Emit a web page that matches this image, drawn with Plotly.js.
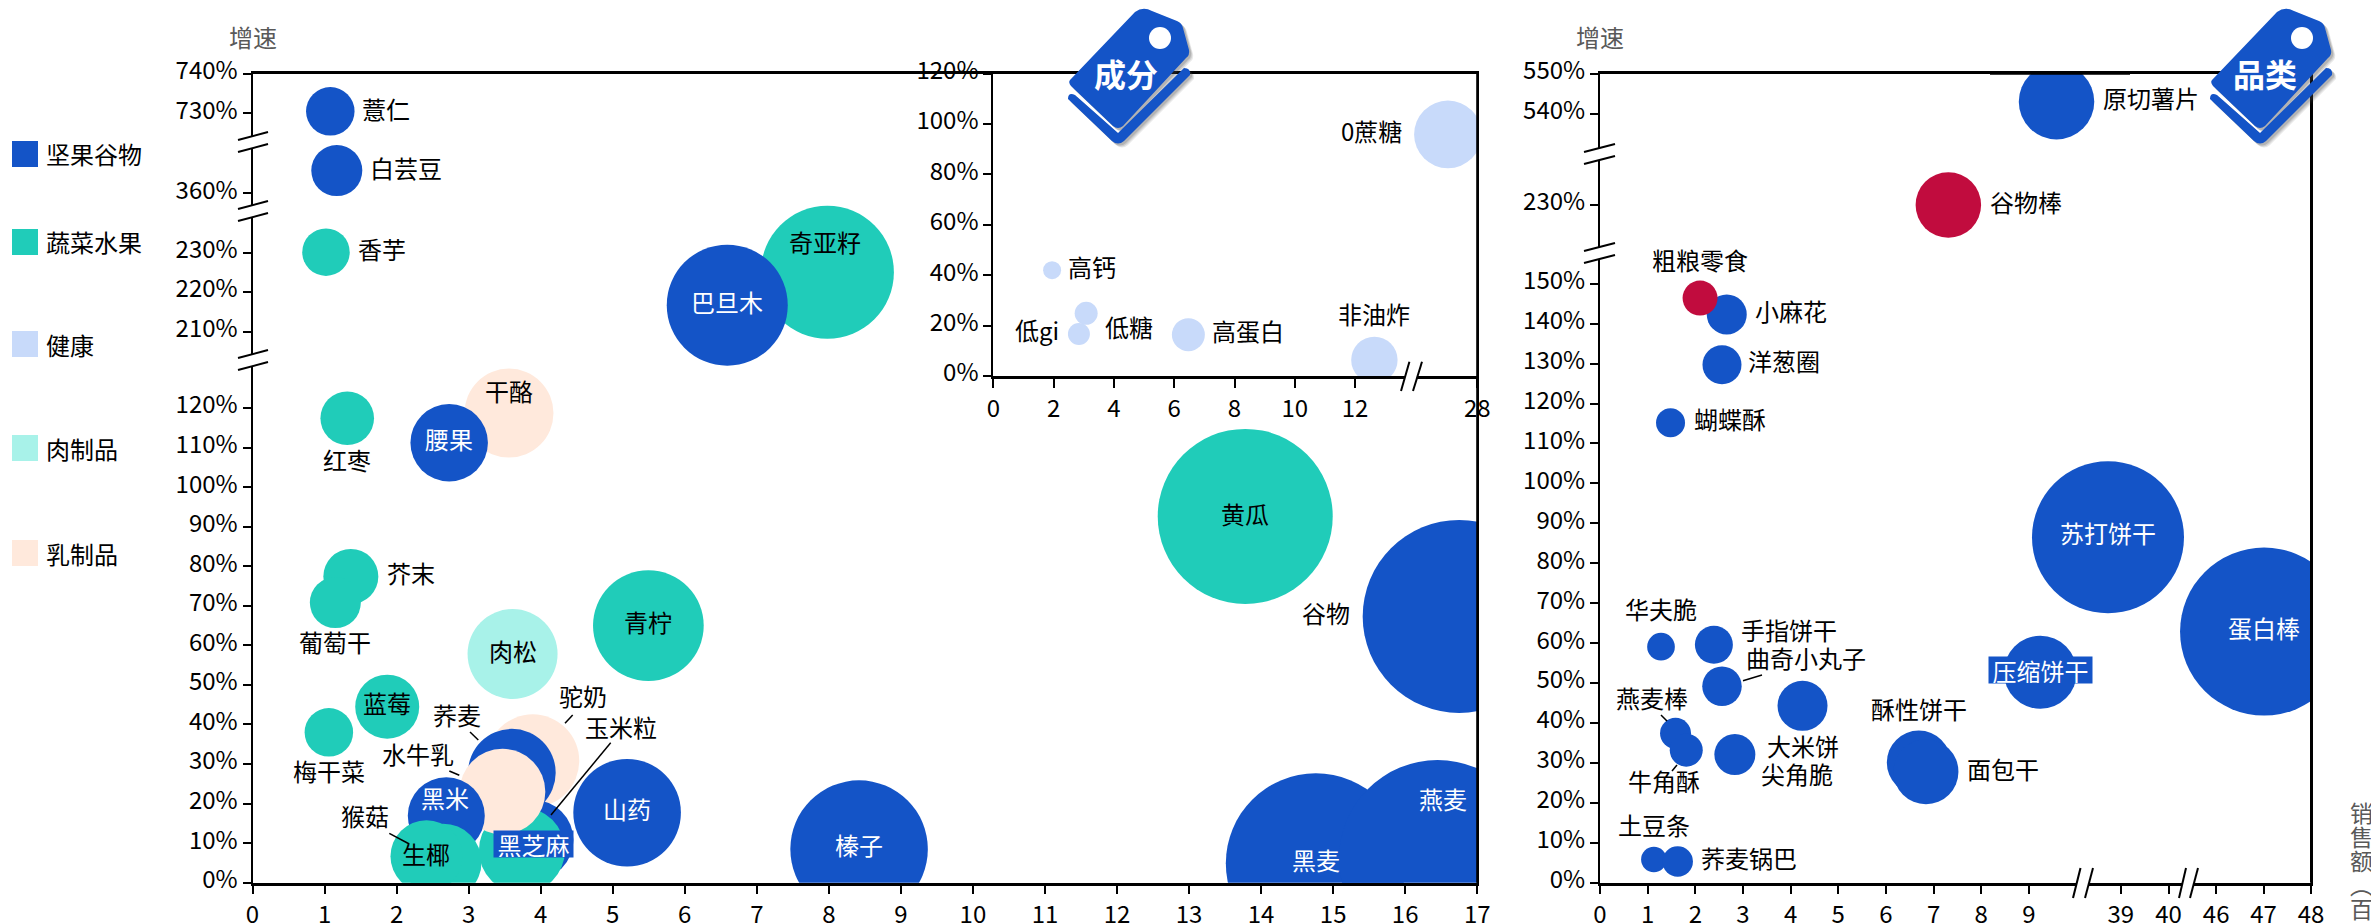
<!DOCTYPE html>
<html><head><meta charset="utf-8">
<script src="https://cdn.plot.ly/plotly-3.0.1.min.js"></script>
<style>html,body{margin:0;padding:0;background:#fff;overflow:hidden}</style>
</head><body><div id="chart" style="width:2371px;height:924px"></div>
<script>
// ---------- category names & colours ----------
const categoryNames = ['坚果谷物','蔬菜水果','健康','肉制品','乳制品'];
const categoryColors = ['#1454C7','#20CCB9','#C8DAFA','#A8F2E9','#FFE9DC','#C10C3E'];

// ---------- main panel (in drawing order) ----------
const mainNames = ['干酪','驼奶','奇亚籽','腰果','巴旦木','荞麦','黑芝麻','山药','榛子','黑麦','燕麦','谷物','薏仁','白芸豆','香芋','红枣','芥末','葡萄干','青柠','蓝莓','梅干菜','黄瓜','玉米粒','肉松','水牛乳','黑米','猴菇','生椰'];
const mainSales = [3.56,3.89,7.98,2.73,6.59,3.6,3.9,5.2,8.42,14.76,16.45,16.75,1.08,1.17,1.02,1.315,1.365,1.15,5.495,1.87,1.06,13.78,3.74,3.61,3.47,2.69,2.645,2.415];
const mainGrowth = [118.7,30.8,225,111.2,216.7,27.8,10.8,17.7,8.5,4.9,6.1,67.3,730.5,365.7,230.8,117.4,77.4,70.8,65,44.5,38,92.6,8.2,57.8,23,16.9,5.2,6.7];
const mainBubble = [89,93,133,77.5,121,87.7,80,107.6,137.5,180,197,193,48.5,51,47.5,53.6,55,51,110.7,64,48.5,175,86,90,85.7,77,77,72];
const mainCategory = [4,4,1,0,0,0,0,0,0,0,0,0,0,0,1,1,1,1,1,1,1,1,1,3,4,0,1,1];
const mainXTicks = [0,1,2,3,4,5,6,7,8,9,10,11,12,13,14,15,16,17];
const mainYTicks = [0,10,20,30,40,50,60,70,80,90,100,110,120,210,220,230,360,730,740];

// ---------- inset panel 成分 ----------
const insetNames = ['高钙','低糖','低gi','高蛋白','非油炸','0蔗糖'];
const insetSales = [1.95,3.08,2.84,6.47,12.64,27.03];
const insetGrowth = [42,24.9,16.7,16.4,6.4,95.9];
const insetBubble = [18,23,22,33,46.4,67.7];
const insetXTicks = [0,2,4,6,8,10,12,28];
const insetYTicks = [0,20,40,60,80,100,120];

// ---------- right panel 品类 ----------
const rightNames = ['原切薯片','苏打饼干','蛋白棒','压缩饼干','酥性饼干','面包干','大米饼','尖角脆','曲奇小丸子','手指饼干','华夫脆','燕麦棒','牛角酥','土豆条','荞麦锅巴','小麻花','洋葱圈','蝴蝶酥','谷物棒','粗粮零食'];
const rightSales = [9.58,38.73,47.01,9.24,6.69,6.84,4.25,2.83,2.56,2.39,1.28,1.585,1.81,1.13,1.63,2.66,2.56,1.48,7.31,2.1];
const rightGrowth = [543,86.5,62.9,52.7,30.1,27.8,44.3,32.1,49.2,59.6,59.1,37.4,33.2,5.8,5.3,142.3,129.7,115.2,229.7,146.4];
const rightBubble = [75.5,152,168,73,64,65,50,41,39.5,38,27.7,31,33,25.5,30.5,40,39,29,65.5,35];
const rightCategory = [0,0,0,0,0,0,0,0,0,0,0,0,0,0,0,0,0,0,5,5];
const rightXTicks = [0,1,2,3,4,5,6,7,8,9,39,40,46,47,48];
const rightYTicks = [0,10,20,30,40,50,60,70,80,90,100,110,120,130,140,150,230,540,550];

// ---------- label placement: name -> [dx, dy] in px from the bubble centre ----------
const labelOffsets = {
 '薏仁':[56,-1],'白芸豆':[69,-1],'香芋':[56,-2],'巴旦木':[0,-2],'奇亚籽':[-2,-29],'红枣':[0,43],'腰果':[0,-2],'干酪':[0,-21],
 '芥末':[60,-2],'葡萄干':[0,41],'肉松':[0,-2],'青柠':[0,-2],'蓝莓':[0,-2],'梅干菜':[0,40],'驼奶':[50,-63],'荞麦':[-55,-56],
 '水牛乳':[-84,-36],'黑米':[-1,-16],'猴菇':[-78.5,-44.7],'生椰':[0,-1],'黑芝麻':[0,6],'玉米粒':[99,-122],'山药':[0,-2],'榛子':[0,-3],
 '黄瓜':[0,-1],'谷物':[-133,-2],'燕麦':[5,-58],'黑麦':[0,-2],
 '高钙':[40,-2],'低糖':[43,15],'低gi':[-42,-2],'高蛋白':[60,-2],'非油炸':[0,-44],'0蔗糖':[-76,-2],
 '原切薯片':[94,-2],'谷物棒':[78,-1],'苏打饼干':[0,-3],'蛋白棒':[0,-2],'压缩饼干':[0,0],'酥性饼干':[0,-52],'面包干':[77,-1],
 '大米饼':[0,42],'尖角脆':[62,21],'曲奇小丸子':[84,-27],'手指饼干':[75,-13],'华夫脆':[0,-36],'燕麦棒':[-24,-34],'牛角酥':[-22,32],
 '土豆条':[0,-33],'荞麦锅巴':[71,-2],'小麻花':[64,-2],'粗粮零食':[0,-37],'洋葱圈':[62,-2],'蝴蝶酥':[59,-2]
};
const whiteLabels = ['巴旦木','腰果','黑米','黑芝麻','山药','榛子','黑麦','燕麦','苏打饼干','蛋白棒','压缩饼干'];
const boxedLabels = {'黑芝麻':[79,26],'压缩饼干':[103,26]};

// ---------- broken-axis scales: real value -> axis position ----------
function brokenScale(real, pos){
  return v => {
    let i = 0;
    while (i < real.length-2 && v > real[i+1]) i++;
    return pos[i] + (v-real[i])*(pos[i+1]-pos[i])/(real[i+1]-real[i]);
  };
}
const mainY  = brokenScale([0,120,210,230,360,370,725,740],[0,120,139.3,159.3,174.3,184.3,189.5,204.5]);
const rightY = brokenScale([0,150,230,235,535,550],[0,150,169.8,174.8,187.6,202.6]);
const insetX = brokenScale([0,14,26,28],[0,14,14.05,16.05]);
const rightX = brokenScale([0,10.2,38.5,40,46,48],[0,10.2,10.43,11.93,12.93,14.92]);
const identity = v => v;

// ---------- page geometry ----------
const W = 2371, H = 924;
const FONT = '"Noto Sans CJK SC","Noto Sans",sans-serif';
const px = x => x/W, py = y => 1-y/H;
const panels = {
  main:{l:252.5,r:1477.2,t:73.7,b:882.7},
  inset:{l:993.3,r:1477.2,t:73.7,b:376},
  right:{l:1600,r:2311,t:73.7,b:882.7}
};

function trace(names,xs,ys,sizes,cats,fx,fy,xa,ya){
  return {type:'scatter',mode:'markers',cliponaxis:true,x:xs.map(fx),y:ys.map(fy),text:names,hoverinfo:'text',xaxis:xa,yaxis:ya,showlegend:false,
    marker:{size:sizes,sizemode:'diameter',sizeref:1,opacity:1,color:cats.map(c=>categoryColors[c]),line:{width:0}}};
}
const data = [
  trace(mainNames,mainSales,mainGrowth,mainBubble,mainCategory,identity,mainY,'x','y'),
  trace(insetNames,insetSales,insetGrowth,insetBubble,insetNames.map(()=>2),insetX,identity,'x2','y2'),
  trace(rightNames,rightSales,rightGrowth,rightBubble,rightCategory,rightX,rightY,'x3','y3')
];

// ---------- annotations ----------
const annotations = [];
function addLabels(names,xs,ys,fx,fy,xa,ya){
  names.forEach((n,i)=>{
    const o = labelOffsets[n]||[0,0];
    const box = boxedLabels[n];
    const a = {text:n,x:fx(xs[i]),y:fy(ys[i]),xref:xa,yref:ya,xshift:o[0],yshift:-o[1]+2,showarrow:false,xanchor:'center',yanchor:'middle',
      font:{family:FONT,size:24,color:whiteLabels.includes(n)?'#FFFFFF':'#000000'},borderpad:0};
    if(box){a.bgcolor=categoryColors[0];a.width=box[0];a.height=box[1];}
    annotations.push(a);
  });
}
addLabels(mainNames,mainSales,mainGrowth,identity,mainY,'x','y');
addLabels(insetNames,insetSales,insetGrowth,insetX,identity,'x2','y2');
addLabels(rightNames,rightSales,rightGrowth,rightX,rightY,'x3','y3');
function paperText(text,x,y,size,color,extra){
  annotations.push(Object.assign({text,x:px(x),y:py(y),xref:'paper',yref:'paper',showarrow:false,xanchor:'center',yanchor:'middle',
    font:{family:FONT,size,color}},extra||{}));
}
paperText('增速',253,37,24,'#595959');
paperText('增速',1600,37,24,'#595959');
const legendRows = [154,242,344,448,553];
categoryNames.forEach((n,i)=>paperText(n,44,legendRows[i],24,'#000000',{xanchor:'left'}));
['销','售','额','︵','百'].forEach((c,i)=>paperText(c,2361,812+i*24,23,'#595959'));
paperText('成分',1126,73,32,'#FFFFFF',{font:{family:FONT,size:32,color:'#FFFFFF',weight:700}});
paperText('品类',2265,73,32,'#FFFFFF',{font:{family:FONT,size:32,color:'#FFFFFF',weight:700}});

// ---------- shapes ----------
const shapes = [];
const paperRect = (x0,y0,x1,y1,fill)=>({type:'rect',xref:'paper',yref:'paper',x0:px(x0),x1:px(x1),y0:py(y0),y1:py(y1),fillcolor:fill,line:{width:0},layer:'above'});
// frame lines redrawn above the cropped bubbles
shapes.push(paperRect(panels.right.r-1,panels.right.t,panels.right.r+1,panels.right.b,'#000000'));
shapes.push(paperRect(1990,panels.right.t-1,2130,panels.right.t+1,'#000000'));
shapes.push(paperRect(panels.main.r-1,panels.main.t,panels.main.r+1,panels.main.b,'#000000'));
legendRows.forEach((y,i)=>shapes.push(paperRect(12,y-13,38,y+13,categoryColors[i])));
function pathFrom(cmds,dx,dy){
  return cmds.map(c=>{
    const [op,...n] = c;
    return op + n.map((v,i)=> i%2===0 ? px(v+dx) : py(v+dy)).join(',');
  }).join(' ') ;
}
const tagBody = [['M',1070,80],['L',1135,12],['Q',1143,6,1152,11],['L',1177,21],['Q',1182,23,1183,28],['L',1189,50],['Q',1190,55,1186,58],['L',1123,126],['Q',1118,130,1113,126],['L',1071,86],['Q',1068,82,1070,80],['Z']];
const tagChevron = [['M',1068,99],['Q',1068,92,1075,95],['L',1118,133],['L',1184,68],['Q',1191,68,1190,75],['L',1124,141],['Q',1118,146,1112,141],['Z']];
function addTag(dx){
  [[4,4,.12],[3,3,.15],[2,2,.2]].forEach(s=>{
    shapes.push({type:'path',xref:'paper',yref:'paper',path:pathFrom(tagBody,dx+s[0],s[1]),fillcolor:'#444',opacity:s[2],line:{width:0},layer:'above'});
    shapes.push({type:'path',xref:'paper',yref:'paper',path:pathFrom(tagChevron,dx+s[0],s[1]),fillcolor:'#444',opacity:s[2],line:{width:0},layer:'above'});
  });
  shapes.push({type:'path',xref:'paper',yref:'paper',path:pathFrom(tagBody,dx,0),fillcolor:categoryColors[0],line:{width:0},layer:'above'});
  shapes.push({type:'path',xref:'paper',yref:'paper',path:pathFrom(tagChevron,dx,0),fillcolor:categoryColors[0],line:{width:0},layer:'above'});
  shapes.push({type:'circle',xref:'paper',yref:'paper',x0:px(1149+dx),x1:px(1171+dx),y0:py(27),y1:py(49),fillcolor:'#FFFFFF',line:{width:0},layer:'above'});
}
addTag(0); addTag(1142);
// leader lines
[[470,732,478.3,740],[572.7,715,565,723.3],[449.3,771,459.3,775.3],[610.7,742.7,551,815],[389.3,833.3,409.3,844],[1762,675,1743,680.7],[1661,715,1667,721],[1677,765,1672,771]]
 .forEach(l=>shapes.push({type:'line',xref:'paper',yref:'paper',x0:px(l[0]),y0:py(l[1]),x1:px(l[2]),y1:py(l[3]),line:{color:'#000',width:1.5},layer:'above'}));
// axis breaks
function addBreak(a,b){
  shapes.push({type:'path',xref:'paper',yref:'paper',path:`M${px(a[0])},${py(a[1])} L${px(a[2])},${py(a[3])} L${px(b[2])},${py(b[3])} L${px(b[0])},${py(b[1])} Z`,fillcolor:'#FFF',line:{width:0},layer:'above'});
  [a,b].forEach(l=>shapes.push({type:'line',xref:'paper',yref:'paper',x0:px(l[0]),y0:py(l[1]),x1:px(l[2]),y1:py(l[3]),line:{color:'#000',width:2},layer:'above'}));
}
addBreak([238,140,268,132],[238,152,268,144]);
addBreak([238,209,268,201],[238,221,268,213]);
addBreak([238,358,268,350],[238,370,268,362]);
addBreak([1584,152,1615,144],[1584,164,1615,156]);
addBreak([1584,251,1615,243],[1584,263,1615,255]);
addBreak([1401,391,1409.4,361.7],[1413,391,1422,361.7]);
addBreak([2073,898,2080.5,868],[2085,898,2093,868]);
addBreak([2179,898,2186,868],[2190,898,2198,868]);

// ---------- axes ----------
const tickFont = {family:FONT,size:24,color:'#000000'};
function xAxis(p,range,vals,f,anchor){
  return {domain:[px(p.l),px(p.r)],range,anchor,tickmode:'array',tickvals:vals.map(f),ticktext:vals.map(String),ticks:'outside',ticklen:9,tickwidth:1.5,tickcolor:'#000',
    showline:true,linecolor:'#000',linewidth:2.5,mirror:true,showgrid:false,zeroline:false,tickfont:tickFont,layer:'below traces',fixedrange:true,tickangle:0};
}
function yAxis(p,range,vals,f,anchor){
  return {domain:[py(p.b),py(p.t)],range,anchor,tickmode:'array',tickvals:vals.map(f),ticktext:vals.map(v=>v+'%'),ticks:'outside',ticklen:8,tickwidth:1.5,tickcolor:'#000',
    showline:true,linecolor:'#000',linewidth:2,mirror:true,showgrid:false,zeroline:false,tickfont:tickFont,layer:'below traces',fixedrange:true,ticklabelshift:-3};
}
const layout = {
  width:W,height:H,margin:{l:0,r:0,t:0,b:0,pad:0},paper_bgcolor:'#fff',plot_bgcolor:'rgba(0,0,0,0)',showlegend:false,
  font:{family:FONT,size:24},hovermode:'closest',
  xaxis:xAxis(panels.main,[0,17],mainXTicks,identity,'y'),
  yaxis:yAxis(panels.main,[0,204.5],mainYTicks,mainY,'x'),
  xaxis2:xAxis(panels.inset,[0,16.05],insetXTicks,insetX,'y2'),
  yaxis2:yAxis(panels.inset,[0,120],insetYTicks,identity,'x2'),
  xaxis3:xAxis(panels.right,[0,14.92],rightXTicks,rightX,'y3'),
  yaxis3:yAxis(panels.right,[0,202.6],rightYTicks,rightY,'x3'),
  annotations,shapes
};
Plotly.newPlot('chart',data,layout,{displayModeBar:false,responsive:false});
</script></body></html>
